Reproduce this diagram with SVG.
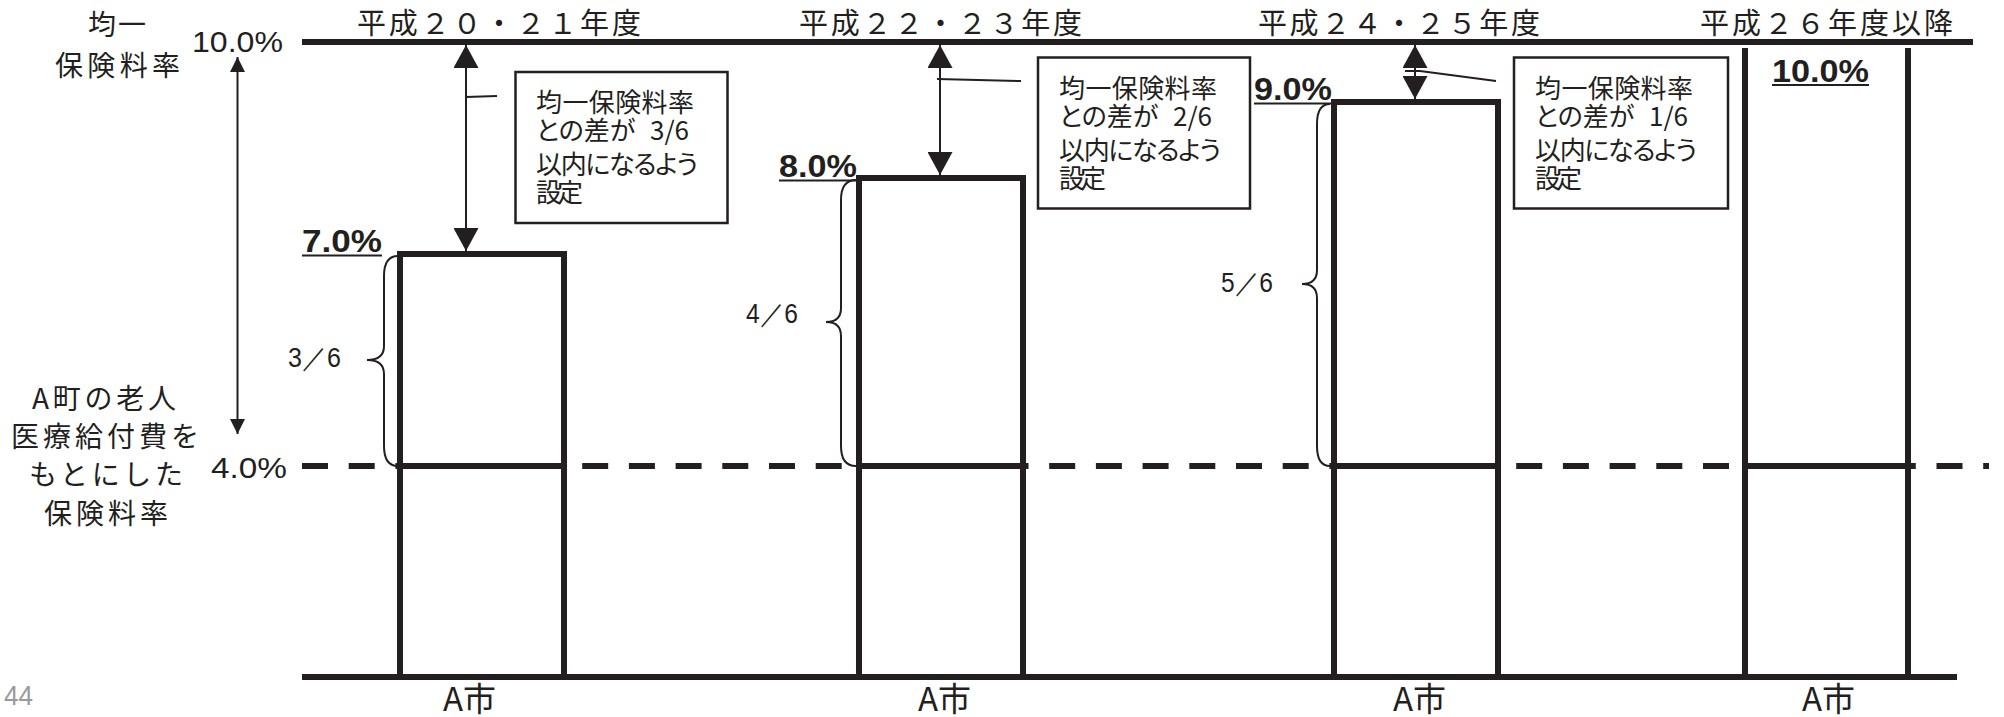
<svg xmlns="http://www.w3.org/2000/svg" width="2004" height="717" viewBox="0 0 2004 717">
<style>
.thick{stroke:#231f20;stroke-width:6;fill:none}
.thin{stroke:#231f20;stroke-width:2;fill:none}
.box{stroke:#231f20;stroke-width:2.5;fill:#fff}
.jp{font-family:"Noto Sans CJK JP","Noto Sans",sans-serif;fill:#231f20}
.num{font-family:"Liberation Sans Narrow","Liberation Sans",sans-serif;fill:#231f20}
.hdr{font-size:29px}
.lbl{font-size:28px}
.btx{font-size:26px;font-feature-settings:"palt"}
.pct{font-size:31px;font-weight:bold}
.axn{font-size:30px}
.frac{font-size:27px}
.city{font-size:33px}
</style>
<defs>
<marker id="ah" viewBox="0 0 23 25" refX="23" refY="12.5" markerWidth="23" markerHeight="25" markerUnits="userSpaceOnUse" orient="auto-start-reverse">
<path d="M0,0 L23,12.5 L0,25 z" fill="#231f20"/>
</marker>
<marker id="ahs" viewBox="0 0 15 15" refX="15" refY="7.5" markerWidth="15" markerHeight="15" markerUnits="userSpaceOnUse" orient="auto-start-reverse">
<path d="M0,0 L15,7.5 L0,15 z" fill="#231f20"/>
</marker>
</defs>
<rect width="2004" height="717" fill="#fff"/>

<g id="axes">
<line class="thick" x1="302" y1="42" x2="1973" y2="42"/>
<line class="thick" x1="302" y1="677" x2="1957" y2="677"/>
<line class="thick" x1="302" y1="466" x2="1989" y2="466" stroke-dasharray="26 20.7"/>
</g>

<g id="labels-left">
<text class="jp lbl" x="88" y="35" textLength="58">均一</text>
<text class="jp lbl" x="55" y="76" textLength="125">保険料率</text>
<text class="num axn" x="192" y="52" textLength="91" lengthAdjust="spacingAndGlyphs">10.0%</text>
<text class="num axn" x="211" y="478" textLength="76" lengthAdjust="spacingAndGlyphs">4.0%</text>
<text class="jp lbl" x="32" y="409" textLength="144">A町の老人</text>
<text class="jp lbl" x="11" y="447" textLength="188">医療給付費を</text>
<text class="jp lbl" x="29" y="485" textLength="154">もとにした</text>
<text class="jp lbl" x="44" y="524" textLength="124">保険料率</text>
<text x="4" y="705" style="font-family:'Liberation Sans Narrow','Liberation Sans',sans-serif;font-size:28px;fill:#9a9a9a" textLength="29" lengthAdjust="spacingAndGlyphs">44</text>
</g>

<g id="headers">
<text class="jp hdr" x="357" y="34" textLength="284">平成２０・２１年度</text>
<text class="jp hdr" x="799" y="34" textLength="283">平成２２・２３年度</text>
<text class="jp hdr" x="1258" y="34" textLength="282">平成２４・２５年度</text>
<text class="jp hdr" x="1700" y="34" textLength="253">平成２６年度以降</text>
</g>

<g id="bar1">
<rect class="thick" x="400" y="254" width="164" height="423"/>
<line class="thick" x1="400" y1="466" x2="564" y2="466"/>
<text class="num pct" x="302" y="252" textLength="80" lengthAdjust="spacingAndGlyphs">7.0%</text>
<line class="thin" x1="302" y1="255.5" x2="382" y2="255.5"/>
<text class="jp city" x="443" y="711">A市</text>
</g>

<g id="bar2">
<rect class="thick" x="859" y="178" width="164" height="499"/>
<line class="thick" x1="859" y1="466" x2="1023" y2="466"/>
<text class="num pct" x="779" y="177" textLength="78" lengthAdjust="spacingAndGlyphs">8.0%</text>
<line class="thin" x1="779" y1="180.5" x2="856" y2="180.5"/>
<text class="jp city" x="918" y="711">A市</text>
</g>

<g id="bar3">
<rect class="thick" x="1334" y="102" width="164" height="575"/>
<line class="thick" x1="1334" y1="466" x2="1498" y2="466"/>
<text class="num pct" x="1254" y="100" textLength="78" lengthAdjust="spacingAndGlyphs">9.0%</text>
<line class="thin" x1="1254" y1="103.5" x2="1331" y2="103.5"/>
<text class="jp city" x="1393" y="711">A市</text>
</g>

<g id="bar4">
<line class="thick" x1="1745" y1="48" x2="1745" y2="677"/>
<line class="thick" x1="1908" y1="48" x2="1908" y2="677"/>
<line class="thick" x1="1745" y1="466" x2="1908" y2="466"/>
<text class="num pct" x="1772" y="82" textLength="97" lengthAdjust="spacingAndGlyphs">10.0%</text>
<line class="thin" x1="1772" y1="85" x2="1869" y2="85"/>
<text class="jp city" x="1802" y="711">A市</text>
</g>

<g id="note1">
<rect class="box" x="515.5" y="72" width="212" height="151"/>
<text class="jp btx" x="536" y="112" textLength="158">均一保険料率</text>
<text class="jp btx" x="536" y="140">との差が <tspan x="650">3/6</tspan></text>
<text class="jp btx" x="536" y="174" textLength="162">以内になるよう</text>
<text class="jp btx" x="536" y="202" textLength="47">設定</text>
</g>

<g id="note2">
<rect class="box" x="1038" y="57.5" width="212" height="151"/>
<text class="jp btx" x="1059" y="97.5" textLength="158">均一保険料率</text>
<text class="jp btx" x="1059" y="125.5">との差が <tspan x="1173">2/6</tspan></text>
<text class="jp btx" x="1059" y="159.5" textLength="162">以内になるよう</text>
<text class="jp btx" x="1059" y="187.5" textLength="47">設定</text>
</g>

<g id="note3">
<rect class="box" x="1514" y="57.5" width="214" height="151"/>
<text class="jp btx" x="1535" y="97.5" textLength="158">均一保険料率</text>
<text class="jp btx" x="1535" y="125.5">との差が <tspan x="1649">1/6</tspan></text>
<text class="jp btx" x="1535" y="159.5" textLength="162">以内になるよう</text>
<text class="jp btx" x="1535" y="187.5" textLength="47">設定</text>
</g>

<g id="braces">
<path class="thin" d="M398,256 Q384,256 384,276 L384,346 Q384,360 367,360 Q384,360 384,374 L384,446 Q384,466 398,466"/>
<text class="num frac" x="288" y="367" textLength="53" lengthAdjust="spacingAndGlyphs">3／6</text>
<path class="thin" d="M856,180 Q841,180 841,200 L841,308 Q841,322 826,322 Q841,322 841,336 L841,446 Q841,466 856,466"/>
<text class="num frac" x="746" y="323" textLength="52" lengthAdjust="spacingAndGlyphs">4／6</text>
<path class="thin" d="M1330,104 Q1317,104 1317,124 L1317,270 Q1317,284 1302,284 Q1317,284 1317,298 L1317,446 Q1317,466 1330,466"/>
<text class="num frac" x="1221" y="292" textLength="52" lengthAdjust="spacingAndGlyphs">5／6</text>
</g>

<g id="connectors">
<line class="thin" x1="237.5" y1="57" x2="237.5" y2="434" marker-start="url(#ahs)" marker-end="url(#ahs)"/>
<line class="thin" x1="466" y1="45" x2="466" y2="251" marker-start="url(#ah)" marker-end="url(#ah)"/>
<line class="thin" x1="940" y1="45" x2="940" y2="175" marker-start="url(#ah)" marker-end="url(#ah)"/>
<line class="thin" x1="1415" y1="45" x2="1415" y2="99" marker-start="url(#ah)" marker-end="url(#ah)"/>
<line class="thin" x1="466" y1="97" x2="497" y2="96"/>
<line class="thin" x1="937" y1="79" x2="1021" y2="81"/>
<polyline class="thin" points="1405,71 1420,71 1496,81"/>
</g>
</svg>
